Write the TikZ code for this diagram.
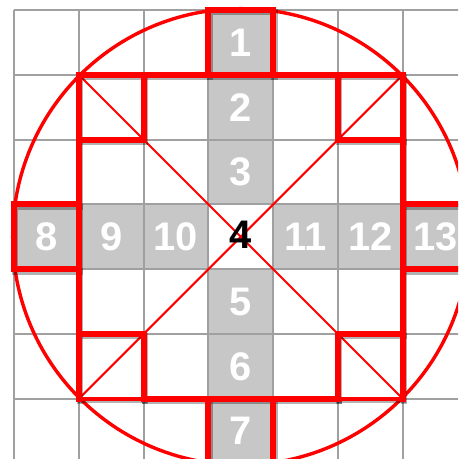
\documentclass[tikz,border=0pt]{standalone}
\usepackage{fontspec}
\setmainfont{Liberation Sans}
\definecolor{cellgray}{RGB}{199,199,199}
\definecolor{gridgray}{RGB}{160,160,160}
\newcommand\myoutline[2]{%
  \draw[#1] (-1.5,-2.5) -- (-0.5,-2.5) -- (-0.5,-3.5) -- (0.5,-3.5) -- (0.5,-2.5) -- (1.5,-2.5);
  \draw[#1] (2.5,-2.5) -- (2.5,-0.5) -- (3.5,-0.5) -- (3.5,0.5) -- (2.5,0.5) -- (2.5,2.5)
     -- (0.5,2.5) -- (0.5,3.5) -- (-0.5,3.5) -- (-0.5,2.5) -- (-2.5,2.5) -- (-2.5,0.5)
     -- (-3.5,0.5) -- (-3.5,-0.5) -- (-2.5,-0.5) -- (-2.5,-2.5);
  \draw[#1] (-0.5,2.5) -- (0.5,2.5);
  \draw[#1] (-0.5,-2.5) -- (0.5,-2.5);
  \draw[#1] (-2.5,0.5) -- (-2.5,-0.5);
  \draw[#1] (2.5,0.5) -- (2.5,-0.5);
  \draw[#1] (-1.5,2.5) -- (-1.5,1.5) -- (-2.5,1.5);
  \draw[#1] (1.5,2.5) -- (1.5,1.5) -- (2.5,1.5);
  \draw[#1] (2.5,-1.5) -- (1.5,-1.5) -- (1.5,-2.5);
  \draw[#1] (-2.5,-1.5) -- (-1.5,-1.5) -- (-1.5,-2.5);
  \draw[#2] (-2.5,-2.5) -- (-1.5,-2.5);
  \draw[#2] (1.5,-2.5) -- (2.5,-2.5);
}
\begin{document}
\begin{tikzpicture}[x=1cm,y=1cm,
  gridline/.style={draw=gridgray, line width=0.9pt},
  cellbox/.style={minimum size=1cm, inner sep=0pt, outer sep=0pt, fill=cellgray},
  num/.style={inner sep=0pt, text=white, font=\fontsize{17.5}{20}\selectfont\bfseries},
  redthick/.style={draw=red, line width=2.7pt, line join=miter, line cap=rect},
  redmid/.style={draw=red, line width=1.8pt, line cap=rect},
  shadowline/.style={draw=black, opacity=0.3, line width=2.7pt, line join=miter, line cap=rect},
  shadowmid/.style={draw=black, opacity=0.3, line width=1.8pt, line cap=rect},
  diag/.style={draw=red, line width=0.9pt},
  ring/.style={draw=red, line width=1.5pt}
]
\useasboundingbox (-3.716,-3.429) rectangle (3.352,3.654);
\clip (-3.716,-3.429) rectangle (3.352,3.654);
\fill[white] (-3.716,-3.429) rectangle (3.352,3.654);
% gray cells
\node[cellbox] (c1) at (0,3) {};
\node[cellbox] (c2) at (0,2) {};
\node[cellbox] (c3) at (0,1) {};
\node[cellbox] (c5) at (0,-1) {};
\node[cellbox] (c6) at (0,-2) {};
\node[cellbox] (c7) at (0,-3) {};
\node[cellbox] (c8) at (-3,0) {};
\node[cellbox] (c9) at (-2,0) {};
\node[cellbox] (c10) at (-1,0) {};
\node[cellbox] (c11) at (1,0) {};
\node[cellbox] (c12) at (2,0) {};
\node[cellbox] (c13) at (3,0) {};
% grid
\foreach \i in {-3.5,-2.5,...,3.5} {
  \draw[gridline] (\i,-3.5) -- (\i,3.5);
  \draw[gridline] (-3.5,\i) -- (3.5,\i);
}
% circle and diagonals
\coordinate (o) at (0,0);
\coordinate (tl) at (-2.5,2.5);
\coordinate (tr) at (2.5,2.5);
\coordinate (bl) at (-2.5,-2.5);
\coordinate (br) at (2.5,-2.5);
\draw[ring] (o) circle (3.52);
\draw[diag] (tl) -- (br);
\draw[diag] (tr) -- (bl);
% thick outline with shadow
\begin{scope}[shift={(0.02,-0.035)}]
\myoutline{shadowline}{shadowmid}
\end{scope}
\myoutline{redthick}{redmid}
% numbers
\node[num] (n1) at (c1) {1};
\node[num] (n2) at (c2) {2};
\node[num] (n3) at (c3) {3};
\node[num, text=black] (n4) at (0,0.03) {4};
\node[num] (n5) at (c5) {5};
\node[num] (n6) at (c6) {6};
\node[num] (n7) at (c7) {7};
\node[num] (n8) at (c8) {8};
\node[num] (n9) at (c9) {9};
\node[num] (n10) at (c10) {10};
\node[num] (n11) at (c11) {11};
\node[num] (n12) at (c12) {12};
\node[num] (n13) at (c13) {13};
\end{tikzpicture}
\end{document}
